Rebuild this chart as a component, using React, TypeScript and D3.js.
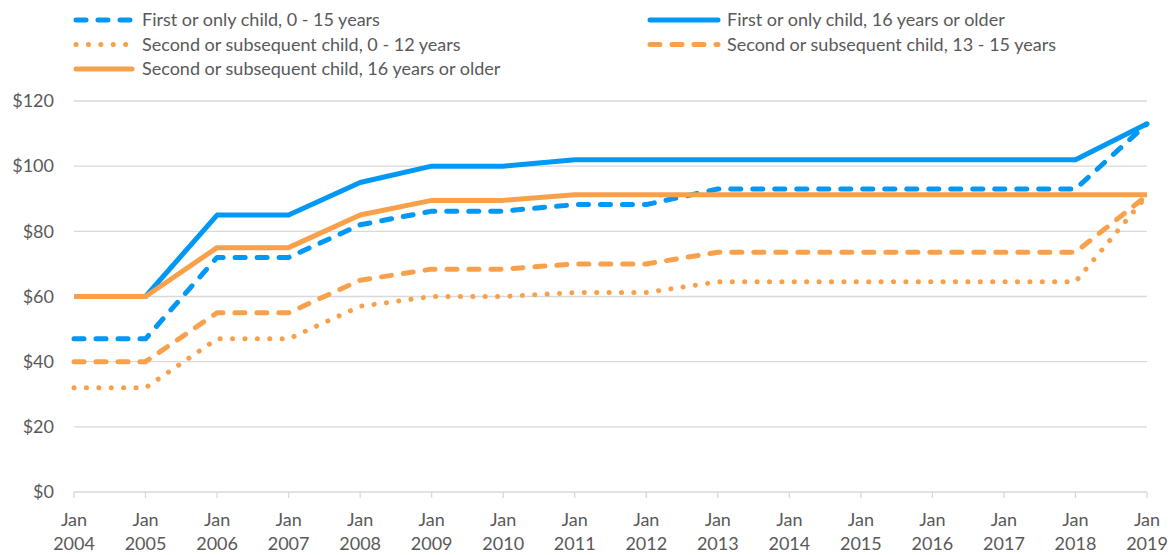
import React from 'react';
import * as d3 from 'd3';

const years = d3.range(2004, 2020);
const yTicks = [0, 20, 40, 60, 80, 100, 120];

const firstYoung = [47, 47, 72, 72, 82, 86.2, 86.2, 88.2, 88.2, 93, 93, 93, 93, 93, 93, 113];
const firstOld = [60, 60, 85, 85, 95, 100, 100, 102, 102, 102, 102, 102, 102, 102, 102, 113];
const secondYoung = [32, 32, 47, 47, 57, 60, 60, 61.2, 61.2, 64.5, 64.5, 64.5, 64.5, 64.5, 64.5, 91];
const secondMid = [40, 40, 55, 55, 65, 68.4, 68.4, 70, 70, 73.6, 73.6, 73.6, 73.6, 73.6, 73.6, 91];
const secondOld = [60, 60, 75, 75, 85, 89.5, 89.5, 91.2, 91.2, 91.2, 91.2, 91.2, 91.2, 91.2, 91.2, 91.2];

const BLUE = '#0098f5';
const ORANGE = '#f9a04b';
const TEXT = '#595959';
const GRID = '#d9d9d9';
const FONT = "Lato, 'Open Sans', sans-serif";
const FS = 18;

type Series = { name: string; values: number[]; color: string; dash: string | null };

const series: Series[] = [
  { name: 'First or only child, 0 - 15 years', values: firstYoung, color: BLUE, dash: '10,12' },
  { name: 'First or only child, 16 years or older', values: firstOld, color: BLUE, dash: null },
  { name: 'Second or subsequent child, 0 - 12 years', values: secondYoung, color: ORANGE, dash: '0.1,12.3' },
  { name: 'Second or subsequent child, 13 - 15 years', values: secondMid, color: ORANGE, dash: '10,12' },
  { name: 'Second or subsequent child, 16 years or older', values: secondOld, color: ORANGE, dash: null },
];

const W = 1175;
const H = 555;

const App: React.FC = () => {
  const x = d3.scaleLinear().domain([2004, 2019]).range([74, 1147]);
  const y = d3.scaleLinear().domain([0, 120]).range([492, 101]);

  const line = d3
    .line<number>()
    .x((_, i) => x(years[i]))
    .y(d => y(d));

  return (
    <svg
      width={W}
      height={H}
      style={{ position: 'absolute', left: 0, top: 0, display: 'block', fontFamily: FONT }}
    >
      {/* gridlines + y labels */}
      {yTicks.map(t => (
        <g key={t}>
          {t > 0 && <line x1={74} x2={1147} y1={y(t)} y2={y(t)} stroke={GRID} strokeWidth={1.3} />}
          <text x={54} y={y(t)} dy="0.35em" textAnchor="end" fontSize={FS} fill={TEXT}>
            ${t}
          </text>
        </g>
      ))}

      {/* x axis */}
      <line x1={74} x2={1147} y1={y(0)} y2={y(0)} stroke={GRID} strokeWidth={1.3} />
      {years.map(yr => (
        <g key={yr} transform={`translate(${x(yr)},0)`}>
          <line y1={y(0)} y2={y(0) + 6} stroke={GRID} strokeWidth={1.3} />
          <text y={520} dy="0.35em" textAnchor="middle" fontSize={FS} fill={TEXT}>
            Jan
          </text>
          <text y={544} dy="0.35em" textAnchor="middle" fontSize={FS} fill={TEXT}>
            {yr}
          </text>
        </g>
      ))}

      {/* lines */}
      {series.map(s => (
        <path
          key={s.name}
          d={line(s.values) || ''}
          fill="none"
          stroke={s.color}
          strokeWidth={5}
          strokeDasharray={s.dash || undefined}
          strokeLinecap={s.dash ? 'round' : 'butt'}
          strokeLinejoin="round"
        />
      ))}

      {/* legend */}
      {series.map((s, i) => {
        const col = i % 2;
        const row = Math.floor(i / 2);
        const lx = col === 0 ? 76 : 650;
        const lw = col === 0 ? 56 : 68;
        const tx = col === 0 ? 142 : 727;
        const ly = 20 + row * 24.5;
        return (
          <g key={s.name}>
            <line
              x1={lx}
              x2={lx + lw}
              y1={ly}
              y2={ly}
              stroke={s.color}
              strokeWidth={5}
              strokeDasharray={s.dash || undefined}
              strokeLinecap="round"
            />
            <text x={tx} y={ly} dy="0.35em" fontSize={FS} fill={TEXT}>
              {s.name}
            </text>
          </g>
        );
      })}
    </svg>
  );
};

export default App;
